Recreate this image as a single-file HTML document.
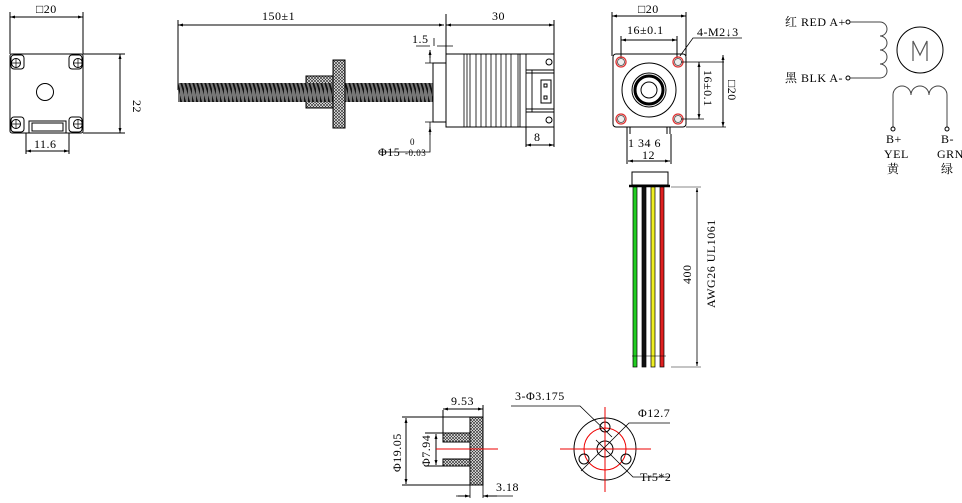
<!DOCTYPE html>
<html><head><meta charset="utf-8"><style>
html,body{margin:0;padding:0;background:#fff;}
svg{display:block;}
text{font-family:"Liberation Serif","Noto Serif CJK SC",serif;fill:#000;letter-spacing:0.5px;}
</style></head><body>
<svg width="962" height="503" viewBox="0 0 962 503" xmlns="http://www.w3.org/2000/svg">
<defs>
<pattern id="h" width="3" height="3" patternUnits="userSpaceOnUse"><rect width="3" height="3" fill="#fff"/><path d="M0 0L3 3M3 0L0 3" stroke="#333" stroke-width="0.7"/></pattern>
<pattern id="th" width="4" height="19" patternUnits="userSpaceOnUse"><rect width="4" height="19" fill="#777"/><path d="M-1 0L5 19" stroke="#111" stroke-width="1.8"/></pattern>
<marker id="a" viewBox="0 0 10 10" refX="10" refY="5" markerWidth="7" markerHeight="5" orient="auto-start-reverse"><path d="M0 2L10 5L0 8z" fill="#000"/></marker>
</defs>
<g fill="none" stroke="#000" stroke-width="1">
<!-- LEFT VIEW -->
<rect x="10" y="54" width="73" height="79" rx="2"/>
<line x1="10" y1="54" x2="10" y2="12"/><line x1="83" y1="54" x2="83" y2="12"/>
<line x1="10" y1="17" x2="83" y2="17" marker-start="url(#a)" marker-end="url(#a)"/>
<rect x="11" y="55" width="13" height="14" rx="3"/><rect x="69" y="55" width="13" height="14" rx="3"/>
<rect x="11" y="117" width="13" height="15" rx="3"/><rect x="69" y="117" width="13" height="15" rx="3"/>
<circle cx="16" cy="63" r="4.5"/><circle cx="78" cy="63" r="4.5"/><circle cx="16" cy="124" r="4.5"/><circle cx="78" cy="124" r="4.5"/>
<path d="M11.5 63h9M16 58.5v9M73.5 63h9M78 58.5v9M11.5 124h9M16 119.5v9M73.5 124h9M78 119.5v9" stroke-width="0.7"/>
<circle cx="45" cy="92" r="8.5"/>
<rect x="29" y="121" width="37" height="12"/><rect x="32" y="123" width="31" height="8"/>
<line x1="83" y1="54" x2="125" y2="54"/><line x1="83" y1="133" x2="125" y2="133"/>
<line x1="120" y1="54" x2="120" y2="133" marker-start="url(#a)" marker-end="url(#a)"/>
<line x1="26" y1="133" x2="26" y2="154"/><line x1="69" y1="133" x2="69" y2="154"/>
<line x1="26" y1="151" x2="69" y2="151" marker-start="url(#a)" marker-end="url(#a)"/>
<!-- MIDDLE VIEW -->
<line x1="178" y1="20" x2="178" y2="90"/><line x1="446" y1="14" x2="446" y2="54"/><line x1="554" y1="20" x2="554" y2="54"/>
<line x1="178" y1="25" x2="444" y2="25" marker-start="url(#a)" marker-end="url(#a)"/>
<line x1="446" y1="25" x2="554" y2="25" marker-start="url(#a)" marker-end="url(#a)"/>
<rect x="306" y="76" width="39" height="32" fill="url(#h)"/>
<rect x="178" y="83" width="263" height="19" fill="url(#th)" stroke="none"/>
<rect x="333" y="60" width="12" height="68" fill="url(#h)"/>
<rect x="433" y="63" width="13" height="59" fill="#fff"/>
<rect x="446" y="54" width="108" height="73" fill="#fff"/>
<path d="M464 54v73M467 54v73M470 54v73M476 54v73M481 54v73M486 54v73M491 54v73M496 54v73M501 54v73M506 54v73M511 54v73M518 54v73" stroke-width="0.8"/>
<path d="M520 54v73M526 54v73M526 70h28M526 112h28M532 70v42M526 73h28M526 109h28" stroke-width="0.9"/>
<rect x="541" y="80" width="10" height="23"/><rect x="544" y="84" width="3" height="3"/><rect x="544" y="96" width="3" height="3"/>
<circle cx="549" cy="62" r="3"/><circle cx="549" cy="120" r="3"/>
<path d="M416 46h14M437 46h16M434 46v-8M434 63H425M434 122H425M430 50v13M430 122v30H380" stroke-width="0.8"/>
<line x1="430" y1="58" x2="430" y2="50" marker-end="url(#a)"/>
<line x1="430" y1="127" x2="430" y2="135" marker-start="url(#a)"/>
<line x1="526" y1="127" x2="526" y2="147"/>
<line x1="526" y1="145" x2="554" y2="145" marker-start="url(#a)" marker-end="url(#a)"/>
<line x1="554" y1="127" x2="554" y2="147"/>
<!-- FRONT VIEW -->
<line x1="612" y1="12" x2="612" y2="56"/><line x1="686" y1="12" x2="686" y2="56"/>
<line x1="612" y1="16" x2="686" y2="16" marker-start="url(#a)" marker-end="url(#a)"/>
<line x1="621" y1="36" x2="621" y2="58"/><line x1="677" y1="36" x2="677" y2="58"/>
<line x1="621" y1="40" x2="677" y2="40" marker-start="url(#a)" marker-end="url(#a)"/>
<rect x="613" y="54" width="73" height="73" rx="3"/>
<g stroke="#d33" stroke-width="1.3"><circle cx="621" cy="62" r="5"/><circle cx="678" cy="62" r="5"/><circle cx="621" cy="119" r="5"/><circle cx="678" cy="119" r="5"/></g>
<g stroke="#444" stroke-width="0.8"><circle cx="621" cy="62" r="3.5" fill="#eee"/><circle cx="678" cy="62" r="3.5" fill="#eee"/><circle cx="621" cy="119" r="3.5" fill="#eee"/><circle cx="678" cy="119" r="3.5" fill="#eee"/></g>
<circle cx="649" cy="90" r="27"/><circle cx="649" cy="90" r="17"/>
<circle cx="649" cy="90" r="14" stroke-width="3"/><circle cx="649" cy="90" r="8"/>
<path d="M681 62H724M681 119H704M686 127H726" stroke-width="0.8"/>
<line x1="699" y1="62" x2="699" y2="119" marker-start="url(#a)" marker-end="url(#a)"/>
<line x1="723" y1="55" x2="723" y2="127" marker-start="url(#a)" marker-end="url(#a)"/>
<path d="M742 38H693L680 56" stroke-width="0.8"/>
<path d="M627 127v7M630 127v7M667 127v7M670 127v7M627 134v30M671 134v30"/>
<line x1="628" y1="161" x2="670" y2="161" marker-start="url(#a)" marker-end="url(#a)"/>
<!-- wires -->
<rect x="632" y="172" width="36" height="13"/><line x1="629" y1="186" x2="670" y2="186" stroke-width="2.5"/>
<rect x="633" y="187" width="4" height="180" fill="#22cc22" stroke="#000" stroke-width="0.7"/>
<rect x="642" y="187" width="4" height="180" fill="#111" stroke="#000" stroke-width="0.7"/>
<rect x="651" y="187" width="4" height="180" fill="#eeee22" stroke="#000" stroke-width="0.7"/>
<rect x="660" y="187" width="4" height="180" fill="#e02020" stroke="#000" stroke-width="0.7"/>
<path d="M632 356h34" stroke-width="0.6"/>
<path d="M671 187h30M671 367h30" stroke="#888"/>
<line x1="697" y1="188" x2="697" y2="366" marker-start="url(#a)" marker-end="url(#a)" stroke-width="0.8"/>
<!-- schematic -->
<circle cx="848" cy="22" r="2"/><circle cx="848" cy="78" r="2"/>
<path d="M850 22H880a6 6 0 0 1 0 14a6 6 0 0 1 0 14a6 6 0 0 1 0 14a6 6 0 0 1 0 14H850" stroke="#444"/>
<circle cx="920" cy="50" r="23"/>
<path d="M913 61V41l7 14l7-14v20" stroke="#555" stroke-width="1.2"/>
<path d="M893 127V95a9 9 0 0 1 18 0a9 9 0 0 1 18 0a9 9 0 0 1 18 0V127" stroke="#444"/>
<circle cx="893" cy="129" r="2"/><circle cx="947" cy="129" r="2"/>
<!-- BOTTOM nut section -->
<path d="M402 417H483M402 485H483M443 410V433M483 405V417M443 433H471M443 466H471M443 433V442M443 459V466M425 433H443M425 466H443"/>
<line x1="443" y1="409" x2="483" y2="409" marker-start="url(#a)" marker-end="url(#a)"/>
<rect x="470" y="417" width="13" height="68" fill="url(#h)"/>
<rect x="443" y="433" width="27" height="9" fill="url(#h)"/>
<rect x="443" y="459" width="27" height="7" fill="url(#h)"/>
<line x1="406" y1="418" x2="406" y2="484" marker-start="url(#a)" marker-end="url(#a)"/>
<line x1="436" y1="434" x2="436" y2="465" marker-start="url(#a)" marker-end="url(#a)"/>
<path d="M470 485v13M483 485v13M456 496h14M483 496h30" stroke-width="0.8"/>
<line x1="458" y1="496" x2="470" y2="496" marker-end="url(#a)"/>
<line x1="497" y1="496" x2="483" y2="496" marker-end="url(#a)"/>
<line x1="436" y1="449" x2="498" y2="449" stroke="#e00"/>
<!-- end view -->
<circle cx="605" cy="449" r="31"/>
<circle cx="605" cy="449" r="21" stroke="#e00"/>
<circle cx="605" cy="449" r="8"/>
<circle cx="605" cy="427" r="5"/><circle cx="584" cy="459" r="5"/><circle cx="626" cy="459" r="5"/>
<path d="M560 449H651M605 407V492" stroke="#e00"/>
<path d="M511 406H580L612 437M581 471L629 423L640 423H670M596 440L633 477H670" stroke-width="0.8"/>
</g>
<g font-size="12">
<text x="36" y="13">□20</text>
<text x="34" y="148">11.6</text>
<text transform="translate(133,100) rotate(90)" fill="#8a1">22</text>
<text x="262" y="20">150±1</text>
<text x="492" y="20">30</text>
<text x="412" y="43">1.5</text>
<text x="378" y="156">Φ15</text>
<text x="410" y="145" font-size="9">0</text>
<text x="405" y="156" font-size="9">-0.03</text>
<text x="534" y="141">8</text>
<text x="638" y="13">□20</text>
<text x="627" y="34">16±0.1</text>
<text x="697" y="36">4-M2↓3</text>
<text transform="translate(704,70) rotate(90)">16±0.1</text>
<text transform="translate(728,80) rotate(90)">□20</text>
<text x="628" y="147">1  34  6</text>
<text x="642" y="159">12</text>
<text transform="translate(691,284) rotate(-90)">400</text>
<text transform="translate(715,308) rotate(-90)">AWG26 UL1061</text>
<text x="785" y="26">红 RED A+</text>
<text x="785" y="82">黑 BLK A-</text>
<text x="886" y="143">B+</text><text x="884" y="158">YEL</text><text x="887" y="173">黄</text>
<text x="941" y="143">B-</text><text x="937" y="158">GRN</text><text x="941" y="173">绿</text>
<text x="451" y="405">9.53</text>
<text transform="translate(401,472) rotate(-90)">Φ19.05</text>
<text transform="translate(430,467) rotate(-90)">Φ7.94</text>
<text x="496" y="491">3.18</text>
<text x="515" y="400">3-Φ3.175</text>
<text x="638" y="417">Φ12.7</text>
<text x="640" y="481">Tr5*2</text>
</g>
</svg>
</body></html>
